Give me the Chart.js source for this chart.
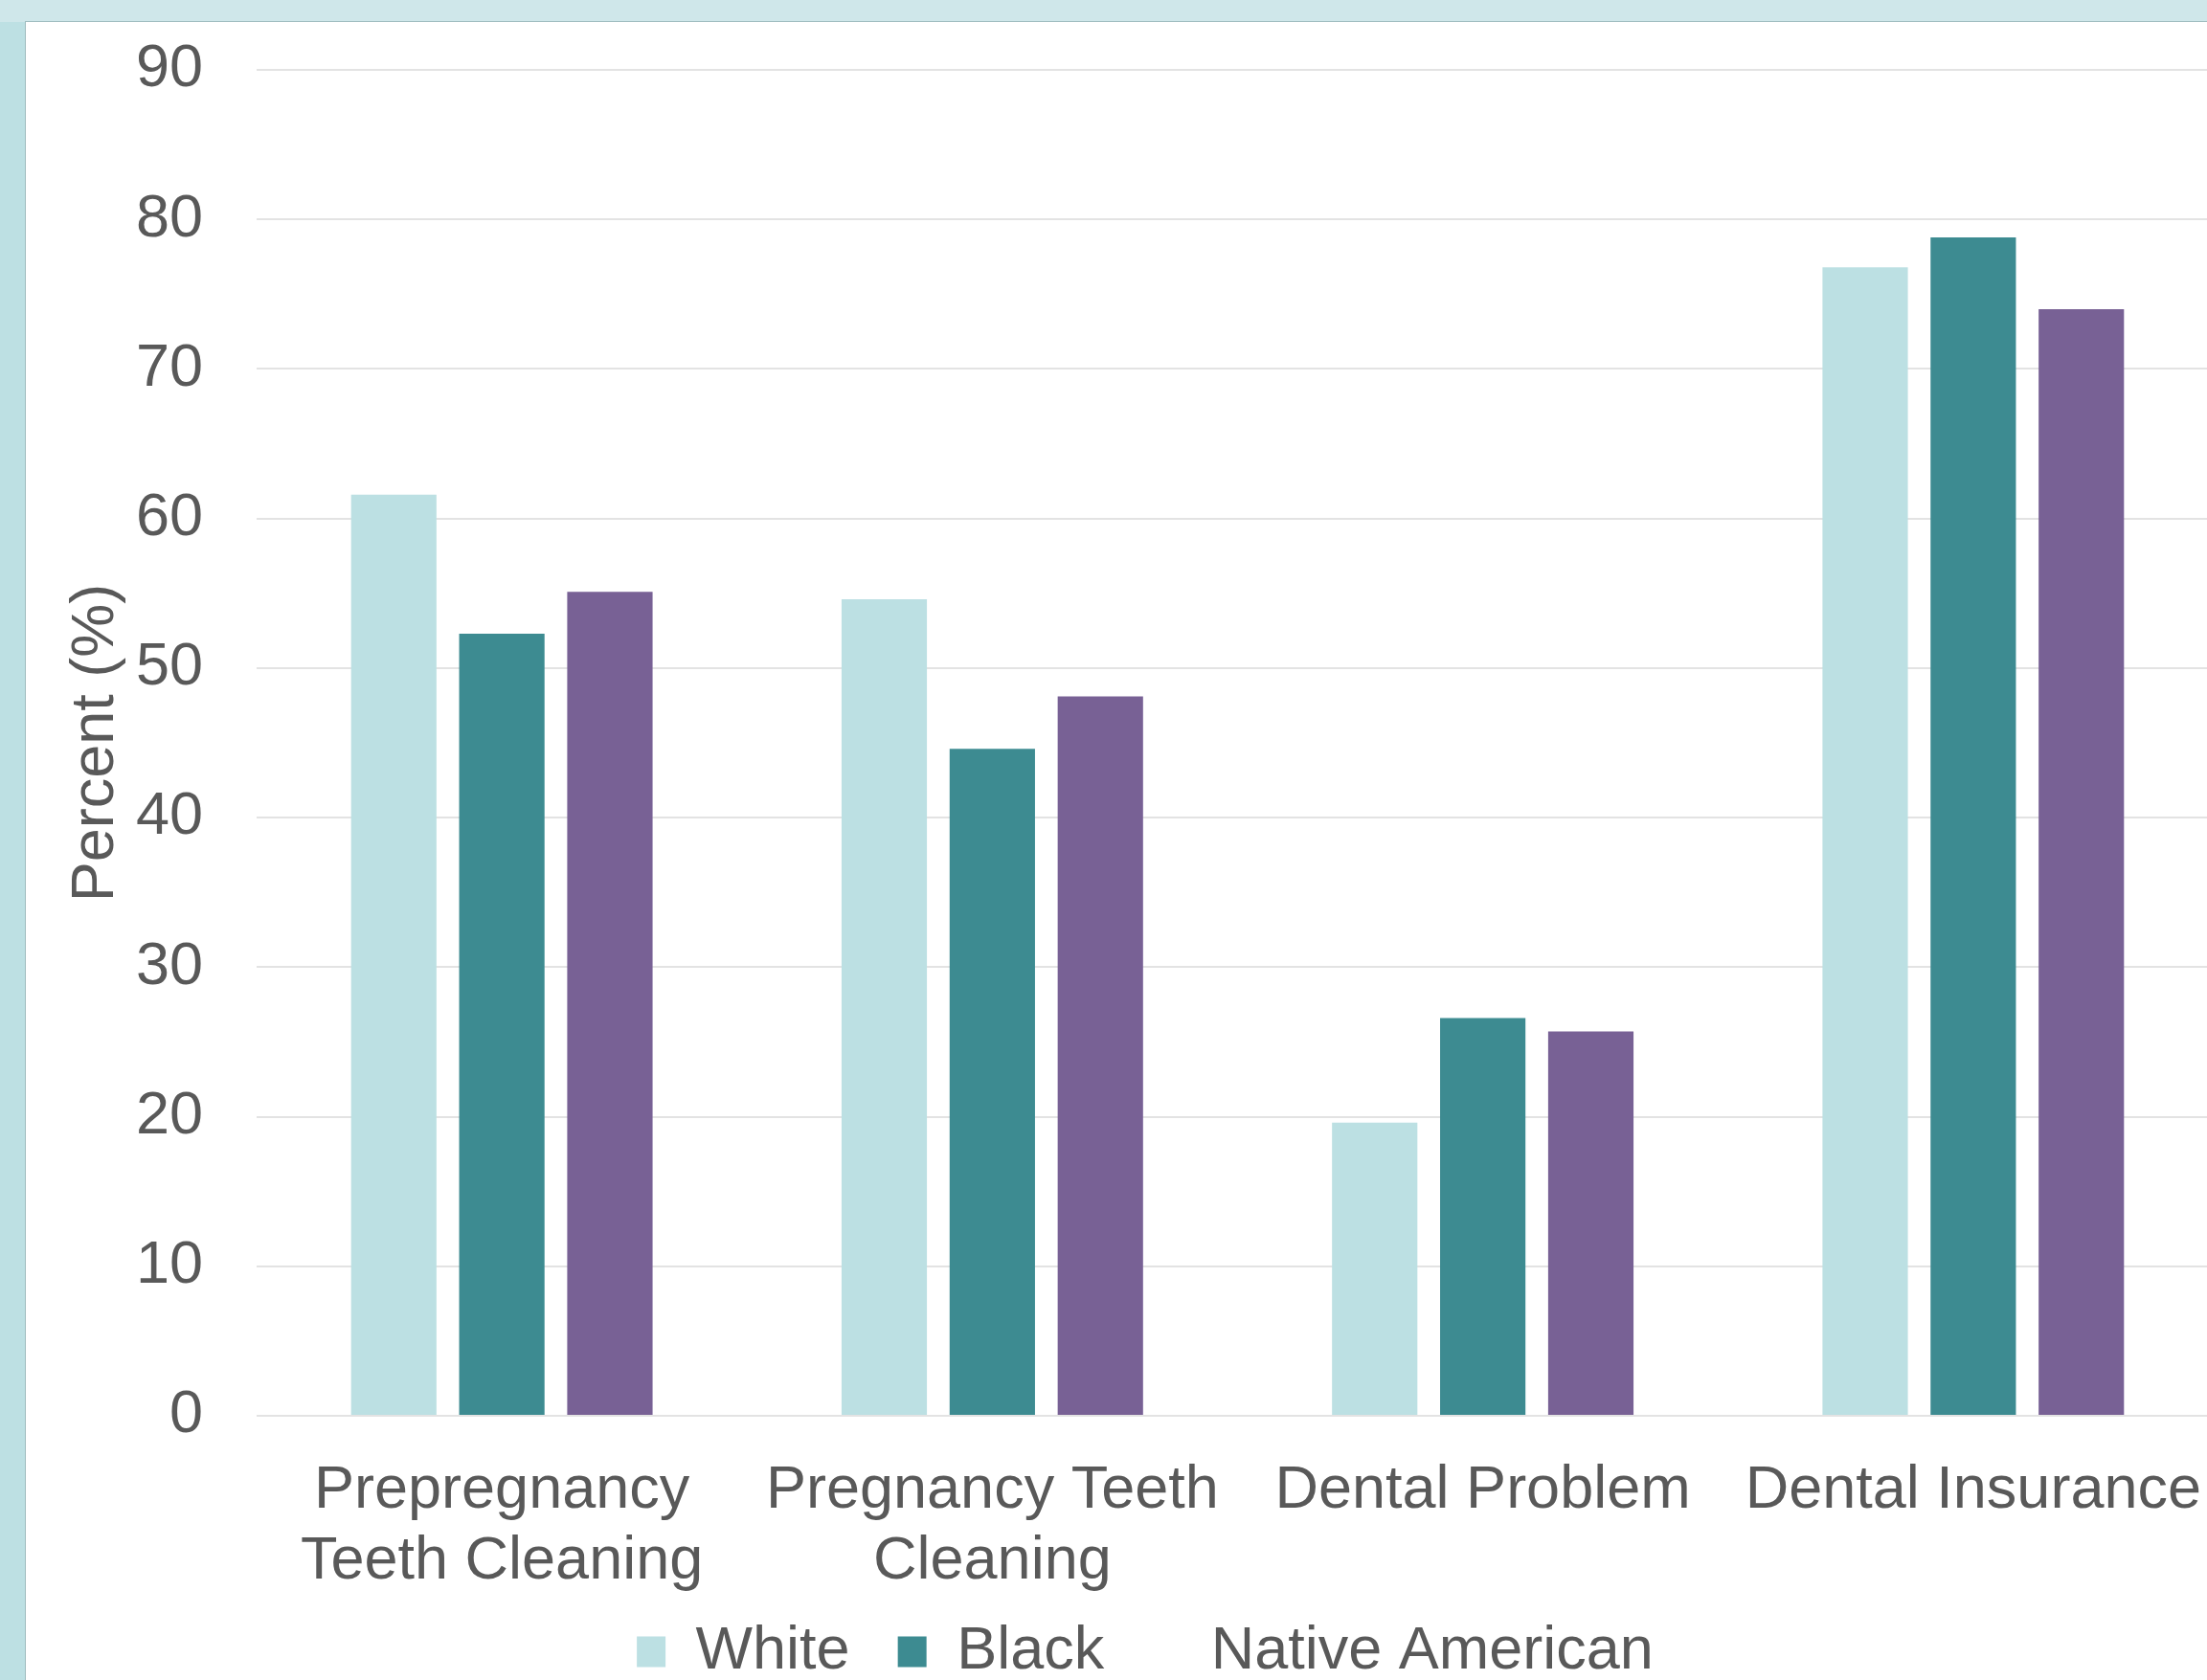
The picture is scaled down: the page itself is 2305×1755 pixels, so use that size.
<!DOCTYPE html>
<html>
<head>
<meta charset="utf-8">
<title>Dental care by race</title>
<script src="https://cdn.jsdelivr.net/npm/chart.js@4.4.0/dist/chart.umd.min.js"></script>
<style>
  html, body { margin: 0; padding: 0; width: 2305px; height: 1755px; overflow: hidden; background: #bde0e3; }
  #topStrip { position: absolute; left: 0; top: 0; width: 2305px; height: 23px; background: #cfe7ea; }
  #panel { position: absolute; left: 26px; top: 22px; width: 2307px; height: 1773px; background: #fff;
           border-left: 1px solid #9fbcbf; border-top: 1px solid #9fbcbf; box-sizing: border-box; }
</style>
</head>
<body>
<div id="topStrip"></div>
<div id="panel"><canvas id="barChart"></canvas></div>
<script>
// data
const categories = [['Prepregnancy', 'Teeth Cleaning'], ['Pregnancy Teeth', 'Cleaning'], 'Dental Problem', 'Dental Insurance'];
const seriesNames = ['White', 'Black', 'Native American'];
const whiteValues = [61.6, 54.6, 19.6, 76.8];
const blackValues = [52.3, 44.6, 26.6, 78.8];
const nativeValues = [55.1, 48.1, 25.7, 74.0];

const colors = ['#bce0e3', '#3d8b91', '#786195'];
const textColor = '#595959';
const fontFamily = "'Liberation Sans', Arial, sans-serif";

document.addEventListener('DOMContentLoaded', function () {
    // the canvas runs past the bottom of the window; pull the legend back into view
    const legendNudge = {
        id: 'legendNudge',
        afterLayout(chart) {
            const lg = chart.legend;
            lg.left += 16;
            lg.right += 16;
            lg.top -= 28;
            lg.bottom -= 28;
        }
    };

    const ctx = document.getElementById('barChart').getContext('2d');
    new Chart(ctx, {
        type: 'bar',
        data: {
            labels: categories,
            datasets: [whiteValues, blackValues, nativeValues].map((vals, i) => ({
                label: seriesNames[i],
                data: vals,
                backgroundColor: colors[i],
                borderWidth: 0,
                categoryPercentage: 0.661,
                barPercentage: 0.79
            }))
        },
        options: {
            responsive: true,
            maintainAspectRatio: false,
            animation: false,
            layout: { padding: { left: 0, top: 50, right: 0, bottom: 0 } },
            scales: {
                x: {
                    grid: { display: false },
                    border: { display: false },
                    ticks: {
                        color: textColor,
                        font: { family: fontFamily, size: 63, lineHeight: 1.167 },
                        padding: 34,
                        maxRotation: 0,
                        minRotation: 0,
                        autoSkip: false
                    },
                    afterFit: function (scale) { scale.height = 193; }
                },
                y: {
                    min: 0,
                    max: 90,
                    grid: { color: '#e3e3e3', lineWidth: 2, drawTicks: true, tickLength: 50, tickColor: 'rgba(0,0,0,0)' },
                    border: { display: false },
                    ticks: {
                        stepSize: 10,
                        color: textColor,
                        font: { family: fontFamily, size: 63 },
                        padding: 6
                    },
                    title: {
                        display: true,
                        text: 'Percent (%)',
                        color: textColor,
                        font: { family: fontFamily, size: 63, lineHeight: 1.2 },
                        padding: { top: 36, bottom: 0 }
                    },
                    afterFit: function (scale) { scale.width = 241; }
                }
            },
            plugins: {
                tooltip: { enabled: false },
                legend: {
                    position: 'bottom',
                    labels: {
                        color: textColor,
                        font: { family: fontFamily, size: 63 },
                        boxWidth: 30,
                        boxHeight: 32,
                        padding: 50,
                        generateLabels: function (chart) {
                            const items = Chart.defaults.plugins.legend.labels.generateLabels(chart);
                            // the third swatch is not shown in the reference
                            items[2].fillStyle = 'rgba(0,0,0,0)';
                            items[2].strokeStyle = 'rgba(0,0,0,0)';
                            items[2].lineWidth = 0;
                            return items;
                        }
                    }
                }
            }
        },
        plugins: [legendNudge]
    });
});
</script>
</body>
</html>
